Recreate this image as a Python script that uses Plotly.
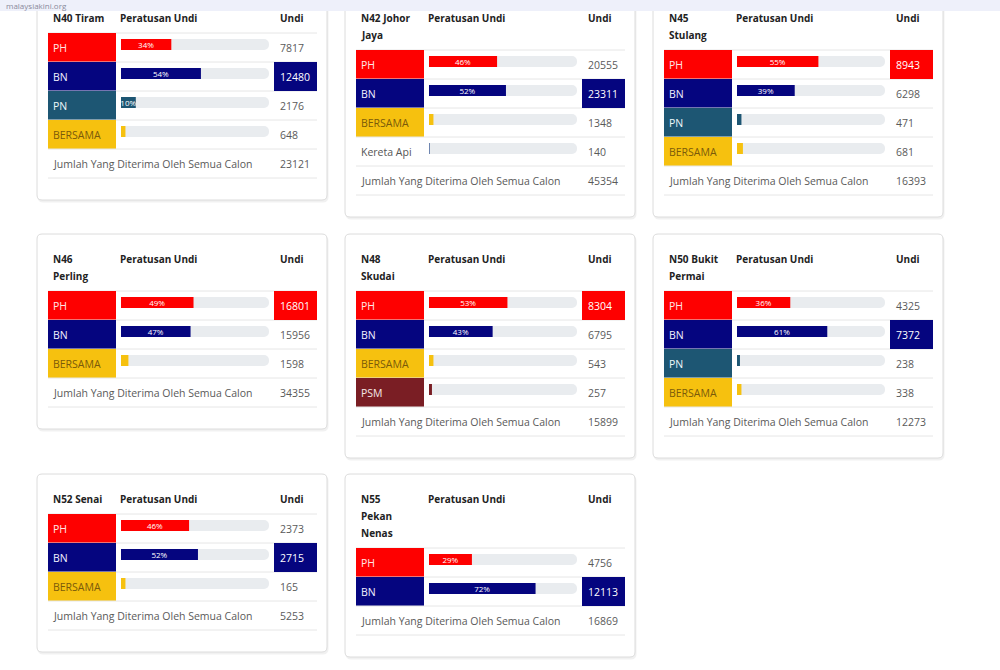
import plotly.graph_objects as go

W, H = 1000, 670
FONT = "Open Sans"

# ---------------- data ----------------
seat_labels = [
    ["N40 Tiram"],
    ["N42 Johor", "Jaya"],
    ["N45", "Stulang"],
    ["N46", "Perling"],
    ["N48", "Skudai"],
    ["N50 Bukit", "Permai"],
    ["N52 Senai"],
    ["N55", "Pekan", "Nenas"],
]
seat_parties = [
    ["PH", "BN", "PN", "BERSAMA"],
    ["PH", "BN", "BERSAMA", "Kereta Api"],
    ["PH", "BN", "PN", "BERSAMA"],
    ["PH", "BN", "BERSAMA"],
    ["PH", "BN", "BERSAMA", "PSM"],
    ["PH", "BN", "PN", "BERSAMA"],
    ["PH", "BN", "BERSAMA"],
    ["PH", "BN"],
]
seat_votes = [
    [7817, 12480, 2176, 648],
    [20555, 23311, 1348, 140],
    [8943, 6298, 471, 681],
    [16801, 15956, 1598],
    [8304, 6795, 543, 257],
    [4325, 7372, 238, 338],
    [2373, 2715, 165],
    [4756, 12113],
]
seat_pct = [
    [34, 54, 10, 3],
    [46, 52, 3, 0.5],
    [55, 39, 3, 4],
    [49, 47, 5],
    [53, 43, 3, 2],
    [36, 61, 2, 3],
    [46, 52, 3],
    [29, 72],
]
seat_total = [23121, 45354, 16393, 34355, 15899, 12273, 5253, 16869]

header_pct = "Peratusan Undi"
header_votes = "Undi"
total_label = "Jumlah Yang Diterima Oleh Semua Calon"

party_fill = {"PH": "#fe0000", "BN": "#05057f", "PN": "#1d5673", "BERSAMA": "#f6c10f",
              "PSM": "#7a1e24", "Kereta Api": None}
party_text = {"PH": "#ffe6e6", "BN": "#f2f2ff", "PN": "#eef6fa", "BERSAMA": "#7a5a0a",
              "PSM": "#f5e8e8", "Kereta Api": "#555555"}
bar_color = {"PH": "#fe0000", "BN": "#05057f", "PN": "#1d5673", "BERSAMA": "#f6c10f",
             "PSM": "#7a1e24", "Kereta Api": "#6f86b0"}

# ---------------- layout geometry ----------------
card_left = [37, 345, 653]
card_top = [-7, 234, 474]
CARD_W = 290
ROW_H = 29
LINE_H = 17
TX = -3  # annotation padding compensation

fig = go.Figure()
shapes, annos = [], []

fig.add_trace(go.Scatter(x=[None], y=[None], xaxis="x", yaxis="y", showlegend=False, hoverinfo="skip"))
layout_axes = dict(
    xaxis=dict(domain=[0, 1], range=[0, W], visible=False, fixedrange=True),
    yaxis=dict(domain=[0, 1], range=[H, 0], visible=False, fixedrange=True),
)


def rect(x0, y0, x1, y1, fill, line=None, lw=0, layer="below"):
    shapes.append(dict(type="rect", xref="x", yref="y", x0=x0, y0=y0, x1=x1, y1=y1,
                       fillcolor=fill, line=dict(color=line or "rgba(0,0,0,0)", width=lw),
                       layer=layer))


def rrect(x0, y0, x1, y1, r, fill, line, lw):
    p = (f"M{x0+r},{y0} L{x1-r},{y0} Q{x1},{y0} {x1},{y0+r} L{x1},{y1-r} Q{x1},{y1} {x1-r},{y1} "
         f"L{x0+r},{y1} Q{x0},{y1} {x0},{y1-r} L{x0},{y0+r} Q{x0},{y0} {x0+r},{y0} Z")
    shapes.append(dict(type="path", xref="x", yref="y", path=p, fillcolor=fill,
                       line=dict(color=line, width=lw), layer="below"))


def hline(x0, x1, y, color="#e6e6e6"):
    shapes.append(dict(type="line", xref="x", yref="y", x0=x0, x1=x1, y0=y, y1=y,
                       line=dict(color=color, width=1), layer="below"))


def text(x, y, s, size=10.5, color="#5a5a5a", bold=False, anchor="left"):
    annos.append(dict(xref="x", yref="y", x=x + TX, y=y, text=(f"<b>{s}</b>" if bold else s),
                      showarrow=False, xanchor=anchor, yanchor="middle",
                      font=dict(family=FONT, size=size, color=color)))


for i, label in enumerate(seat_labels):
    cx = card_left[i % 3]
    cy = card_top[i // 3]
    parties = seat_parties[i]
    votes = seat_votes[i]
    pct = seat_pct[i]
    n = len(parties)
    rt = cy + 40 + LINE_H * (len(label) - 1)
    bottom = rt + ROW_H * (n + 1) + 22

    rrect(cx + 1, cy + 2, cx + CARD_W + 1, bottom + 2, 5, "#f1f1f1", "#f1f1f1", 1)
    rrect(cx, cy, cx + CARD_W, bottom, 5, "#ffffff", "#dcdcdc", 1)

    for k, line in enumerate(label):
        text(cx + 17, cy + 25 + LINE_H * k, line, size=10, color="#222222", bold=True)
    text(cx + 84, cy + 25, header_pct, size=10, color="#222222", bold=True)
    text(cx + 244, cy + 25, header_votes, size=10, color="#222222", bold=True)

    winner = max(range(n), key=lambda j: votes[j])
    hline(cx + 11, cx + 280, rt)
    for j, p in enumerate(parties):
        top = rt + ROW_H * j
        if party_fill[p]:
            rect(cx + 11, top, cx + 79, top + ROW_H, party_fill[p])
        hline(cx + 11, cx + 280, top + ROW_H)
        text(cx + 17, top + ROW_H / 2, p, color=party_text[p])
        if j == winner:
            rect(cx + 237, top, cx + 280, top + ROW_H, bar_color[p])
            text(cx + 244, top + ROW_H / 2, str(votes[j]), color="#ffffff")
        else:
            text(cx + 244, top + ROW_H / 2, str(votes[j]))
    jt = rt + ROW_H * n
    text(cx + 17, jt + ROW_H / 2, total_label)
    text(cx + 244, jt + ROW_H / 2, str(seat_total[i]))
    hline(cx + 11, cx + 280, jt + ROW_H)

    ax = i + 2
    ytop = rt - 3
    ybot = rt + ROW_H * n - 3
    layout_axes[f"xaxis{ax}"] = dict(domain=[(cx + 84) / W, (cx + 232) / W], range=[0, 100],
                                     visible=False, fixedrange=True, anchor=f"y{ax}")
    layout_axes[f"yaxis{ax}"] = dict(domain=[1 - ybot / H, 1 - ytop / H], range=[n - 0.5, -0.5],
                                     visible=False, fixedrange=True, anchor=f"x{ax}")
    ys = list(range(n))
    fig.add_trace(go.Bar(x=[100] * n, y=ys, orientation="h", width=0.38,
                         marker=dict(color="#e9ecef", cornerradius=5, line=dict(width=0)),
                         xaxis=f"x{ax}", yaxis=f"y{ax}", showlegend=False, hoverinfo="skip"))
    fig.add_trace(go.Bar(x=pct, y=ys, orientation="h", width=0.38,
                         marker=dict(color=[bar_color[p] for p in parties], cornerradius=4,
                                     line=dict(width=0)),
                         text=[f"{v}%" if v >= 10 else "" for v in pct],
                         textposition="inside", insidetextanchor="middle",
                         textfont=dict(family=FONT, size=8, color="#ffffff"),
                         xaxis=f"x{ax}", yaxis=f"y{ax}", showlegend=False,
                         hovertemplate="%{x}%<extra></extra>"))

rect(0, 0, W, 11, "#eef0fa", layer="above")
annos.append(dict(xref="x", yref="y", x=4, y=5, text="malaysiakini.org", showarrow=False,
                  xanchor="left", yanchor="middle", font=dict(family=FONT, size=8, color="#8a8a9a")))

fig.update_layout(
    width=W, height=H, margin=dict(l=0, r=0, t=0, b=0),
    paper_bgcolor="#ffffff", plot_bgcolor="rgba(0,0,0,0)",
    barmode="overlay", uniformtext=dict(minsize=8, mode="show"),
    shapes=shapes, annotations=annos, showlegend=False,
    **layout_axes,
)

fig.write_html("out.html")
